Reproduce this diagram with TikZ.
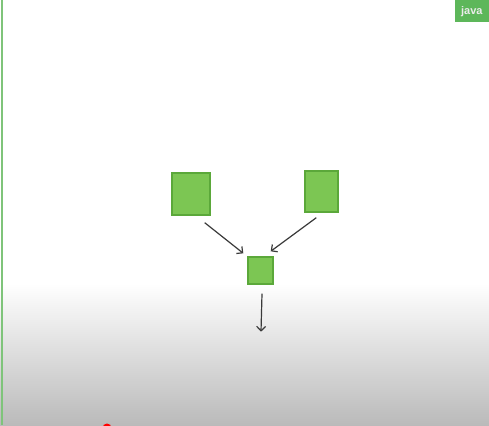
\documentclass[tikz,border=0pt]{standalone}
\usepackage{fontspec}
\setsansfont{Liberation Sans}
\usetikzlibrary{arrows.meta}
\definecolor{boxfill}{HTML}{7CC653}
\definecolor{boxline}{HTML}{5BA83A}
\definecolor{tagfill}{HTML}{5DB75A}
\definecolor{arrcol}{HTML}{3A3A3A}
\definecolor{edgecol}{HTML}{7FC47A}
\tikzset{
  gbox/.style={draw=boxline, fill=boxfill, line width=1.4pt, inner sep=0pt},
  arr/.style={draw=arrcol, line width=1.2pt, -{Straight Barb[length=4.5pt,width=9pt]}},
}
\begin{document}
\begin{tikzpicture}[x=1pt,y=-1pt]
\useasboundingbox (0,0) rectangle (489,425);
\fill[white] (0,0) rectangle (489,283);
\shade[top color=white, bottom color=black!27] (0,283) rectangle (489,425);
\draw[color=edgecol, line width=2pt] (1.5,0) -- (1.5,425);
\node[fill=tagfill, minimum width=34pt, minimum height=22pt, inner sep=0pt,
      text=white!92!black, font=\sffamily\bfseries\fontsize{11}{12}\selectfont, anchor=north east]
      (tag) at (489,0) {java};
\node[gbox, minimum width=38pt, minimum height=42pt] (A) at (191,194) {};
\node[gbox, minimum width=33pt, minimum height=41pt] (B) at (321.5,191.5) {};
\node[gbox, minimum width=25pt, minimum height=27pt] (C) at (260.5,270.5) {};
\coordinate (out) at ([shift={(0.5,47)}]C.south);
\draw[arr] ([shift={(-6,7)}]A.south east) -- ([shift={(-4,-3)}]C.north west);
\draw[arr] ([shift={(12,5)}]B.south west) -- ([shift={(-3,-5)}]C.north east);
\draw[arr] ([shift={(1.5,9)}]C.south) -- (out);
\fill[red] (107,428) circle (4.5);
\end{tikzpicture}
\end{document}
